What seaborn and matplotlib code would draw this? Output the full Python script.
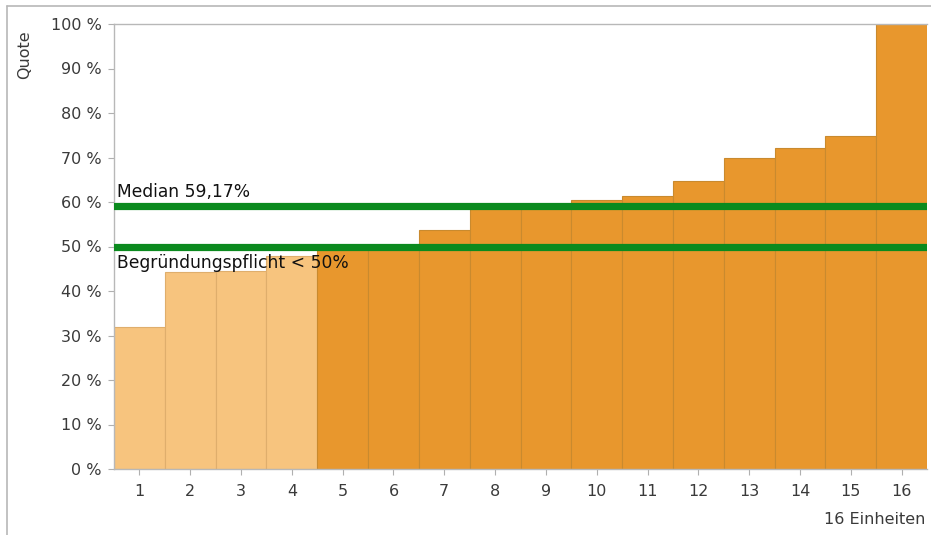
import matplotlib
matplotlib.use("Agg")
import matplotlib.pyplot as plt
from matplotlib.lines import Line2D
import seaborn as sns
import pandas as pd

# Data
einheiten = [str(i) for i in range(1, 17)]
quote = [32.0, 44.3, 44.5, 47.9, 49.8, 50.0, 53.6, 59.0, 59.3, 60.5, 61.3, 64.8, 69.8, 72.1, 74.8, 100.0]
gruppe = ["unter"] * 4 + ["ueber"] * 12
median_wert = 59.17
grenze = 50.0
yticks = list(range(0, 101, 10))
ytick_labels = [f"{v} %" for v in yticks]

df = pd.DataFrame({"Einheit": einheiten, "Quote": quote, "Gruppe": gruppe})

sns.set_theme(style="white")
plt.rcParams["font.family"] = ["DejaVu Sans"]

fig = plt.figure(figsize=(9.31, 5.35), dpi=100)
ax = fig.add_axes([114 / 931, 66 / 535, (927 - 114) / 931, (469 - 24) / 535])

sns.barplot(data=df, x="Einheit", y="Quote", hue="Gruppe",
            palette={"unter": "#f7c47e", "ueber": "#e8972d"}, saturation=1,
            width=1.0, dodge=False, legend=False, ax=ax,
            edgecolor="#c98a2e", linewidth=0.8)

# light bars get a softer edge
for patch, g in zip(ax.patches, gruppe):
    if g == "unter":
        patch.set_edgecolor("#dfae6c")

# median and threshold lines
median_text = "Median " + f"{median_wert:.2f}".replace(".", ",") + "%"
ax.axhline(median_wert, color="#0b8a1e", lw=5.2, zorder=5)
ax.axhline(grenze, color="#0b8a1e", lw=5.2, zorder=5)
ax.text(-0.44, 62.3, median_text, fontsize=12.3, color="#111111", va="center", ha="left")
ax.text(-0.44, 46.3, f"Begründungspflicht < {int(grenze)}%",
        fontsize=12.3, color="#111111", va="center", ha="left", zorder=6)

ax.set_xlim(-0.5, 15.5)
ax.set_ylim(0, 100)
ax.set_yticks(yticks)
ax.set_yticklabels(ytick_labels)
ax.set_xlabel("")
ax.set_ylabel("")
ax.tick_params(axis="both", colors="#b0b0b0", labelcolor="#3a3a3a", labelsize=11.5,
               length=4, width=0.8, direction="out")
ax.tick_params(axis="y", pad=5)
ax.tick_params(axis="x", pad=7)
ax.yaxis.set_ticks_position("left")
ax.xaxis.set_ticks_position("bottom")
for side in ["left", "bottom", "top"]:
    ax.spines[side].set_color("#b8b8b8")
    ax.spines[side].set_linewidth(1.0)
ax.spines["right"].set_visible(False)

fig.text(25 / 931, 1 - 55 / 535, "Quote", rotation=90, fontsize=11.5,
         color="#3a3a3a", ha="center", va="center")
fig.text(925 / 931, 1 - 520 / 535, "16 Einheiten", fontsize=11.5,
         color="#3a3a3a", ha="right", va="center")

# outer frame (top and left only)
fig.add_artist(Line2D([7 / 931, 1], [1 - 6 / 535, 1 - 6 / 535], color="#b8b8b8", lw=1.2))
fig.add_artist(Line2D([7 / 931, 7 / 931], [0, 1 - 6 / 535], color="#b8b8b8", lw=1.2))

fig.savefig("out.png", dpi=100)
